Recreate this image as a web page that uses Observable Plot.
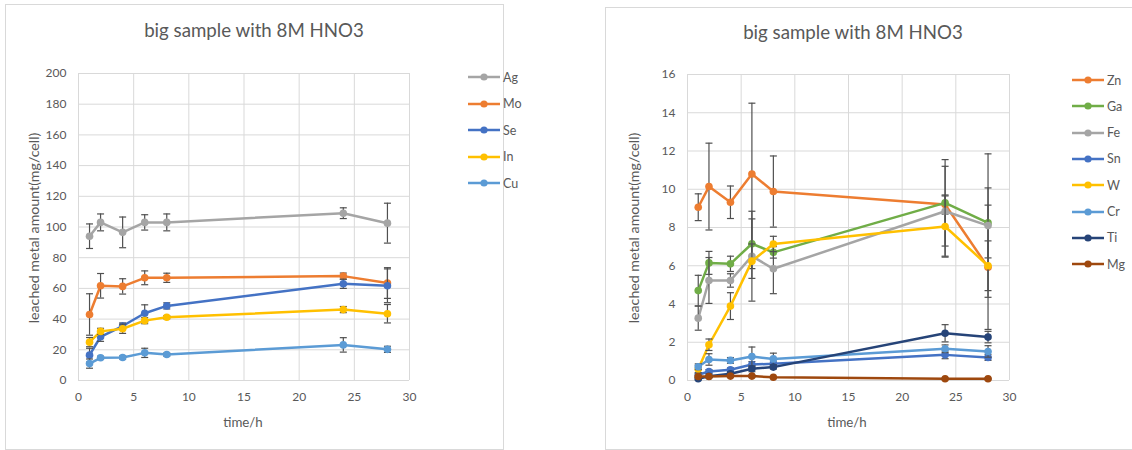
<!DOCTYPE html>
<html><head><meta charset="utf-8">
<script src="https://cdn.jsdelivr.net/npm/d3@7"></script>
<script src="https://cdn.jsdelivr.net/npm/@observablehq/plot@0.6"></script>
<style>
body{margin:0;background:#fff;font-family:Lato,"Open Sans",sans-serif;}
#wrap{position:relative;width:1132px;height:450px;overflow:hidden;background:#fff;}
.panel{position:absolute;border:1px solid #d9d9d9;box-sizing:border-box;}
.title{position:absolute;font-size:18.7px;line-height:1;color:#595959;white-space:nowrap;transform:translateX(-50%);}
.xlab{position:absolute;font-size:13.3px;line-height:1;color:#595959;white-space:nowrap;transform:translateX(-50%);}
.ylab{position:absolute;font-size:14.2px;line-height:1;color:#595959;white-space:nowrap;transform:translate(-50%,-50%) rotate(-90deg);}
.item{position:absolute;display:flex;align-items:center;height:20px;font-size:12.5px;color:#595959;}
.item svg{margin-right:2px;}
svg.plot{position:absolute;}
</style></head><body><div id="wrap"></div>
<script>
// ---------- data ----------
const hours = [1, 2, 4, 6, 8, 24, 28];
const xTicks = [0, 5, 10, 15, 20, 25, 30];
const yTicksLeft = [0, 20, 40, 60, 80, 100, 120, 140, 160, 180, 200];
const yTicksRight = [0, 2, 4, 6, 8, 10, 12, 14, 16];

const titleText = "big sample with 8M HNO3";
const xLabel = "time/h";
const yLabel = "leached metal amount(mg/cell)";

// left panel
const leftNames = ["Ag", "Mo", "Se", "In", "Cu"];
const Ag = [94, 103, 96.5, 103, 103, 109, 102.5];
const AgErr = [8, 5.5, 10, 5, 5.5, 3.5, 13];
const Mo = [43, 61.7, 61.3, 66.9, 66.9, 68, 63.5];
const MoErr = [13.5, 8, 5, 4.5, 3, 2, 10];
const Se = [16.5, 28.5, 35.5, 43.8, 48.6, 63, 61.7];
const SeErr = [4.5, 3, 2, 5.5, 2, 3, 11];
const In = [25, 32, 33.7, 39, 41.2, 46.2, 43.5];
const InErr = [3, 2, 3, 2, 1, 2, 6];
const Cu = [11, 14.8, 15, 18, 16.9, 23.2, 20.3];
const CuErr = [3, 1, 1, 3, 1, 4.7, 2];

// right panel
const rightNames = ["Zn", "Ga", "Fe", "Sn", "W", "Cr", "Ti", "Mg"];
const Zn = [9.06, 10.14, 9.32, 10.8, 9.88, 9.2, 5.92];
const ZnErr = [0.7, 2.27, 0.85, 3.7, 1.86, 0.5, 3.25];
const Ga = [4.7, 6.15, 6.1, 7.15, 6.7, 9.29, 8.24];
const GaErr = [0.8, 0.6, 0.4, 1.3, 0.3, 2.26, 1.83];
const Fe = [3.26, 5.23, 5.23, 6.5, 5.84, 8.85, 8.1];
const FeErr = [0.63, 1.2, 0.35, 2.35, 1.3, 2.35, 3.75];
const Sn = [0.3, 0.47, 0.56, 0.84, 0.87, 1.34, 1.2];
const SnErr = [0.1, 0.1, 0.1, 0.15, 0.1, 0.2, 0.15];
const W = [0.6, 1.87, 3.89, 6.24, 7.14, 8.05, 6.0];
const WErr = [0.2, 0.3, 0.7, 0.9, 0.4, 1.6, 1.3];
const Cr = [0.72, 1.1, 1.05, 1.25, 1.13, 1.66, 1.52];
const CrErr = [0.15, 0.3, 0.15, 0.5, 0.3, 0.2, 0.3];
const Ti = [0.09, 0.22, 0.35, 0.61, 0.7, 2.47, 2.27];
const TiErr = [0.05, 0.05, 0.1, 0.15, 0.1, 0.45, 0.3];
const Mg = [0.21, 0.21, 0.23, 0.23, 0.17, 0.09, 0.09];
const MgErr = [0.05, 0.05, 0.05, 0.05, 0.03, 0.03, 0.03];

// styles
const leftColors = ["#A5A5A5", "#ED7D31", "#4472C4", "#FFC000", "#5B9BD5"];
const rightColors = ["#ED7D31", "#70AD47", "#A5A5A5", "#4472C4", "#FFC000", "#5B9BD5", "#264478", "#9E480E"];

// ---------- build ----------
const wrap = document.getElementById("wrap");
const cap = {draw(ctx) { ctx.moveTo(-3.5, 0); ctx.lineTo(3.5, 0); }};

function rows(names, vals, errs) {
  return names.map((n, i) => hours.map((h, j) => ({name: n, h, v: vals[i][j], e: errs[i][j]})));
}

function add(el, cls, text, css) {
  const d = document.createElement("div");
  d.className = cls;
  if (text != null) d.textContent = text;
  Object.assign(d.style, css);
  wrap.appendChild(d);
  return d;
}

function panel(cfg) {
  add(null, "panel", null, cfg.box);
  const groups = rows(cfg.names, cfg.vals, cfg.errs);
  const marks = [
    Plot.gridX(xTicks, {stroke: "#d9d9d9", strokeOpacity: 1, strokeWidth: 1}),
    Plot.gridY(cfg.yTicks, {stroke: "#d9d9d9", strokeOpacity: 1, strokeWidth: 1}),
    Plot.axisX(xTicks, {tickSize: 0, tickPadding: 12, label: null, fill: "#595959", fontSize: 12}),
    Plot.axisY(cfg.yTicks, {tickSize: 0, tickPadding: 12, label: null, fill: "#595959", fontSize: 12})
  ];
  for (const d of groups) {
    marks.push(Plot.line(d, {x: "h", y: "v", stroke: "name", strokeWidth: 2.5}));
    marks.push(Plot.ruleX(d, {x: "h", y1: r => r.v - r.e, y2: r => r.v + r.e, stroke: "#505050", strokeWidth: 1.2}));
    marks.push(Plot.dot(d, {x: "h", y: r => r.v + r.e, symbol: cap, stroke: "#505050", fill: "none", strokeWidth: 1.2}));
    marks.push(Plot.dot(d, {x: "h", y: r => r.v - r.e, symbol: cap, stroke: "#505050", fill: "none", strokeWidth: 1.2}));
    marks.push(Plot.dot(d, {x: "h", y: "v", fill: "name", r: 3.8}));
  }
  const svg = Plot.plot({
    width: cfg.w, height: cfg.h,
    marginLeft: cfg.m[0], marginRight: cfg.m[1], marginTop: cfg.m[2], marginBottom: cfg.m[3],
    style: {fontFamily: "Lato, 'Open Sans', sans-serif", fontSize: "12px", background: "none", overflow: "visible"},
    x: {domain: [0, 30], label: null},
    y: {domain: cfg.yDomain, label: null},
    color: {domain: cfg.names, range: cfg.colors},
    marks
  });
  svg.classList.add("plot");
  svg.style.left = cfg.pos[0] + "px";
  svg.style.top = cfg.pos[1] + "px";
  wrap.appendChild(svg);

  add(null, "title", titleText, {left: cfg.title[0] + "px", top: cfg.title[1] + "px"});
  add(null, "xlab", xLabel, {left: cfg.xl[0] + "px", top: cfg.xl[1] + "px"});
  add(null, "ylab", yLabel, {left: cfg.yl[0] + "px", top: cfg.yl[1] + "px"});

  cfg.names.forEach((n, i) => {
    const it = add(null, "item", null, {left: cfg.leg[0] + "px", top: (cfg.leg[1] + i * cfg.leg[2] - 10) + "px"});
    const c = cfg.colors[i];
    it.innerHTML = `<svg width="33" height="10"><line x1="0" y1="5" x2="32" y2="5" stroke="${c}" stroke-width="2.5"/><circle cx="16" cy="5" r="3.6" fill="${c}"/></svg>`;
    const s = document.createElement("span");
    s.textContent = n;
    it.appendChild(s);
  });
}

panel({
  box: {left: "5px", top: "4px", width: "499px", height: "446px"},
  names: leftNames, colors: leftColors,
  vals: [Ag, Mo, Se, In, Cu], errs: [AgErr, MoErr, SeErr, InErr, CuErr],
  yTicks: yTicksLeft, yDomain: [0, 200],
  w: 498, h: 445, m: [73, 94, 68, 70], pos: [5, 5],
  title: [254, 21], xl: [243, 416], yl: [34, 228],
  leg: [468, 77, 26.5]
});

panel({
  box: {left: "605px", top: "7px", width: "540px", height: "443px"},
  names: rightNames, colors: rightColors,
  vals: [Zn, Ga, Fe, Sn, W, Cr, Ti, Mg], errs: [ZnErr, GaErr, FeErr, SnErr, WErr, CrErr, TiErr, MgErr],
  yTicks: yTicksRight, yDomain: [0, 16],
  w: 526, h: 442, m: [81, 123, 66, 70], pos: [606, 8],
  title: [853, 23], xl: [847, 416], yl: [634, 228],
  leg: [1072, 80, 26.3]
});
</script></body></html>
